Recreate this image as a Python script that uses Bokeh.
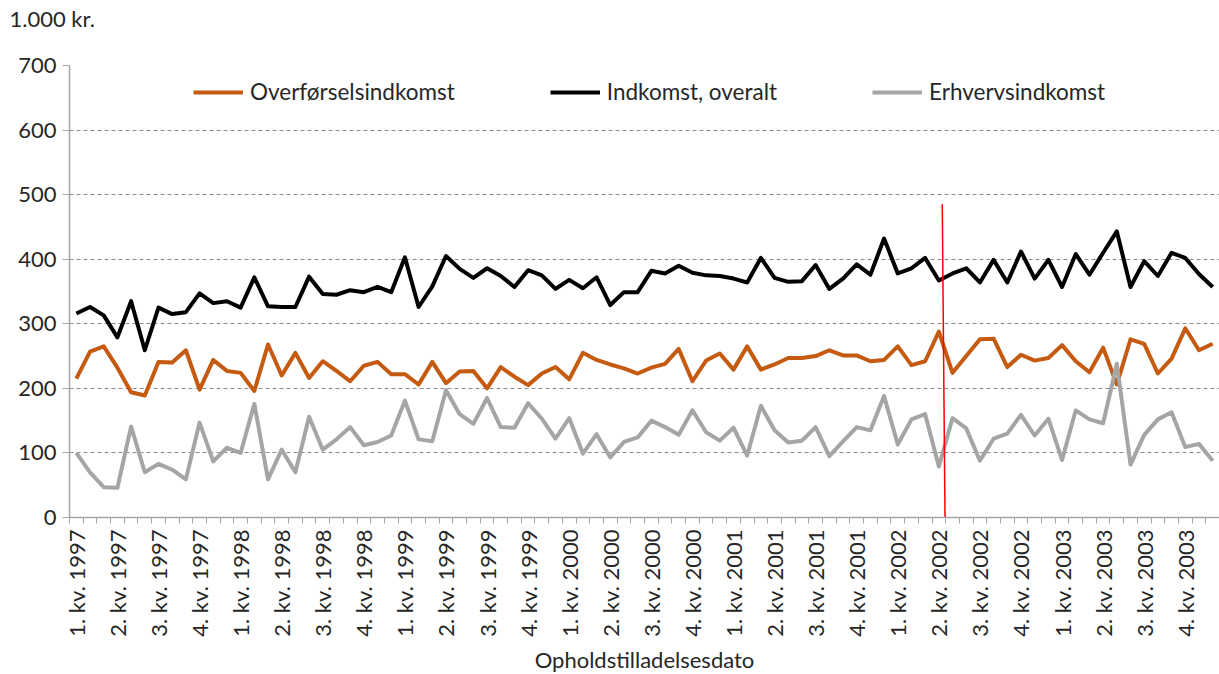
import math
from bokeh.plotting import figure
from bokeh.models import FixedTicker, Legend, LegendItem, Title
from bokeh.embed import file_html
from bokeh.resources import INLINE

quarter_labels = [
    "1. kv. 1997", "2. kv. 1997", "3. kv. 1997", "4. kv. 1997",
    "1. kv. 1998", "2. kv. 1998", "3. kv. 1998", "4. kv. 1998",
    "1. kv. 1999", "2. kv. 1999", "3. kv. 1999", "4. kv. 1999",
    "1. kv. 2000", "2. kv. 2000", "3. kv. 2000", "4. kv. 2000",
    "1. kv. 2001", "2. kv. 2001", "3. kv. 2001", "4. kv. 2001",
    "1. kv. 2002", "2. kv. 2002", "3. kv. 2002", "4. kv. 2002",
    "1. kv. 2003", "2. kv. 2003", "3. kv. 2003", "4. kv. 2003",
]

indkomst_overalt = [
    316, 326, 313, 279, 335, 259, 325, 315, 318, 347, 332, 335,
    325, 372, 327, 326, 326, 373, 346, 345, 352, 349, 357, 349,
    403, 326, 358, 405, 385, 371, 386, 374, 357, 383, 375, 354,
    368, 355, 372, 329, 349, 349, 382, 378, 390, 379, 375, 374,
    370, 364, 402, 371, 365, 366, 391, 354, 370, 392, 376, 432,
    378, 386, 402, 367, 378, 386, 364, 399, 364, 412, 370, 399,
    357, 408, 376, 410, 443, 357, 397, 374, 410, 402, 377, 357,
]

overfoerselsindkomst = [
    215, 257, 265, 232, 194, 189, 241, 240, 259, 198, 244, 227,
    224, 196, 268, 220, 255, 216, 242, 227, 211, 235, 241, 222,
    222, 206, 241, 208, 226, 227, 200, 233, 218, 205, 223, 233,
    214, 255, 244, 237, 231, 223, 232, 238, 261, 211, 243, 254,
    229, 265, 229, 237, 247, 247, 250, 259, 251, 251, 242, 244,
    265, 236, 242, 288, 224, 250, 276, 277, 233, 252, 243, 247,
    267, 242, 225, 263, 206, 276, 269, 223, 246, 293, 259, 269,
]

erhvervsindkomst = [
    100, 70, 47, 46, 141, 70, 83, 74, 59, 147, 87, 108,
    100, 176, 59, 105, 70, 156, 105, 121, 140, 112, 117, 127,
    181, 121, 118, 197, 160, 145, 185, 140, 139, 177, 153, 122,
    154, 99, 129, 93, 117, 124, 150, 140, 128, 166, 132, 119,
    139, 96, 173, 135, 116, 119, 140, 95, 118, 140, 135, 188,
    113, 152, 160, 79, 154, 138, 88, 122, 130, 159, 127, 153,
    89, 166, 152, 146, 238, 82, 128, 152, 163, 109, 114, 88,
]

marker_x = [63.25, 63.45]
marker_y = [485, 0]

unit_text = "1.000 kr."

months = list(range(len(indkomst_overalt)))
label_pos = list(range(0, len(months), 3))
overrides = {pos: lab for pos, lab in zip(label_pos, quarter_labels)}

FONT = "Lato"
TXT = "#262626"
FS = "22px"

p = figure(
    frame_width=1150, frame_height=452,
    x_range=(-0.5, len(months) - 0.5), y_range=(0, 700),
    output_backend="svg", toolbar_location=None,
    min_border_left=69, min_border_right=0, min_border_top=65,
    min_border_bottom=140,
)
p.outline_line_color = None
p.background_fill_color = "white"
p.border_fill_color = "white"

# spacer between the unit text and the frame
p.add_layout(Title(text=" ", text_font_size="2px", standoff=29), "above")

p.title.text = unit_text
p.title.text_font = FONT
p.title.text_font_size = FS
p.title.text_font_style = "normal"
p.title.text_color = TXT
p.title.align = "left"
p.title.offset = -60
p.title.standoff = 2

# y axis
p.yaxis.ticker = FixedTicker(ticks=[0, 100, 200, 300, 400, 500, 600, 700])
p.yaxis.axis_line_color = "#a6a6a6"
p.yaxis.axis_line_width = 1.5
p.yaxis.major_tick_line_color = "#a6a6a6"
p.yaxis.major_tick_out = 7
p.yaxis.major_tick_in = 0
p.yaxis.minor_tick_line_color = None
p.yaxis.major_label_text_font = FONT
p.yaxis.major_label_text_font_size = FS
p.yaxis.major_label_text_color = TXT
p.yaxis.major_label_standoff = 6

# x axis
p.xaxis.ticker = FixedTicker(ticks=label_pos,
                             minor_ticks=[i - 0.5 for i in range(len(months) + 1)])
p.xaxis.major_label_overrides = overrides
p.xaxis.major_label_orientation = math.pi / 2
p.xaxis.axis_line_color = "#a6a6a6"
p.xaxis.axis_line_width = 1.5
p.xaxis.major_tick_line_color = None
p.xaxis.major_tick_out = 0
p.xaxis.major_tick_in = 0
p.xaxis.minor_tick_line_color = "#a6a6a6"
p.xaxis.minor_tick_out = 6
p.xaxis.minor_tick_in = 0
p.xaxis.major_label_text_font = FONT
p.xaxis.major_label_text_font_size = FS
p.xaxis.major_label_text_color = TXT
p.xaxis.major_label_standoff = 6
p.xaxis.axis_label = "Opholdstilladelsesdato"
p.xaxis.axis_label_text_font = FONT
p.xaxis.axis_label_text_font_size = FS
p.xaxis.axis_label_text_font_style = "normal"
p.xaxis.axis_label_text_color = TXT
p.xaxis.axis_label_standoff = 6

p.xgrid.grid_line_color = None
p.ygrid.grid_line_color = "#8c8c8c"
p.ygrid.grid_line_dash = "4 3"
p.ygrid.grid_line_width = 1

r1 = p.line(months, overfoerselsindkomst, line_color="#c55a11", line_width=4, line_join="round")
r2 = p.line(months, indkomst_overalt, line_color="#000000", line_width=4, line_join="round")
r3 = p.line(months, erhvervsindkomst, line_color="#a5a5a5", line_width=4, line_join="round")
p.line(marker_x, marker_y, line_color="#ff0000", line_width=1.5)

legend = Legend(items=[
    LegendItem(label="Overførselsindkomst", renderers=[r1]),
    LegendItem(label="Indkomst, overalt", renderers=[r2]),
    LegendItem(label="Erhvervsindkomst", renderers=[r3]),
], orientation="horizontal", location=(124, 412))
legend.glyph_width = 50
legend.glyph_height = 24
legend.label_height = 24
legend.label_standoff = 7
legend.spacing = 95
legend.padding = 0
legend.margin = 0
legend.border_line_color = None
legend.background_fill_alpha = 0
legend.label_text_font = FONT
legend.label_text_font_size = "22.5px"
legend.label_text_color = TXT
p.add_layout(legend)

open("out.html", "w").write(file_html(p, INLINE))
